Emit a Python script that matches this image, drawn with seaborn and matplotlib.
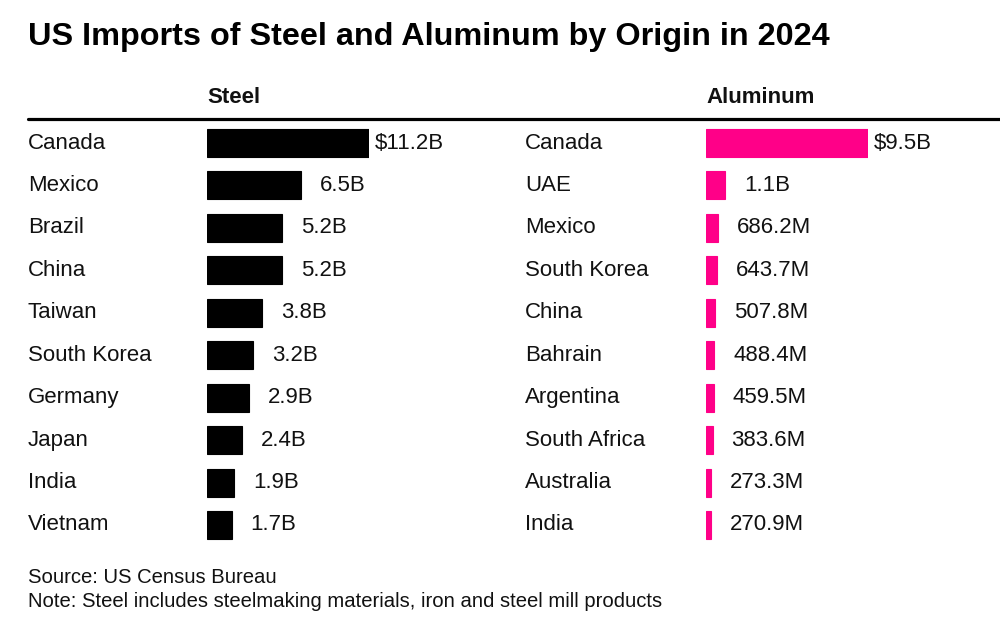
import matplotlib
matplotlib.use("Agg")
import matplotlib.pyplot as plt
import matplotlib.transforms as mtransforms
import seaborn as sns

# data (values in billions of USD)
steel_countries = ['Canada', 'Mexico', 'Brazil', 'China', 'Taiwan',
                   'South Korea', 'Germany', 'Japan', 'India', 'Vietnam']
steel_values = [11.2, 6.5, 5.2, 5.2, 3.8, 3.2, 2.9, 2.4, 1.9, 1.7]

alu_countries = ['Canada', 'UAE', 'Mexico', 'South Korea', 'China',
                 'Bahrain', 'Argentina', 'South Africa', 'Australia', 'India']
alu_values = [9.5, 1.1, 0.6862, 0.6437, 0.5078, 0.4884, 0.4595, 0.3836, 0.2733, 0.2709]

title = 'US Imports of Steel and Aluminum by Origin in 2024'
source = 'Source: US Census Bureau'
note = 'Note: Steel includes steelmaking materials, iron and steel mill products'

sns.set_style('white')
plt.rcParams['font.family'] = ['Liberation Sans', 'DejaVu Sans']

W, H = 1000, 635
fig = plt.figure(figsize=(10, 6.35), dpi=100)
txt = '#111111'


def fmt(v, first):
    s = f'{v:.1f}B' if v >= 1 else f'{v * 1000:.1f}M'
    return '$' + s if first else s


def panel(left_px, label_px, header, countries, values, color):
    # rows: first center at 143px, last at 525px
    top, bottom = 143 - 21.2, 525 + 21.2
    ax = fig.add_axes([left_px / W, 1 - bottom / H, 162 / W, (bottom - top) / H])
    sns.barplot(x=values, y=countries, orient='h', color=color,
                width=0.66, ax=ax, saturation=1, edgecolor=color, linewidth=0.8)
    ax.set_xlim(0, max(values))
    ax.set_ylim(len(values) - 0.5, -0.5)
    ax.set_axis_off()
    ax.patch.set_alpha(0)
    for i, v in enumerate(values):
        ax.annotate(fmt(v, i == 0), xy=(v, i), xytext=(6 if i == 0 else 19, 0),
                    textcoords='offset pixels', va='center', ha='left',
                    fontsize=16, color=txt, annotation_clip=False)
    trans = mtransforms.blended_transform_factory(fig.transFigure, ax.transData)
    for i, c in enumerate(countries):
        ax.text(label_px / W, i, c, transform=trans, va='center', ha='left',
                fontsize=16, color=txt)
    fig.text(left_px / W, 1 - 103 / H, header, fontsize=16, fontweight='bold',
             color=txt, va='baseline', ha='left')
    return ax


panel(207, 28, 'Steel', steel_countries, steel_values, 'black')
panel(706, 525, 'Aluminum', alu_countries, alu_values, '#ff0088')

fig.text(28 / W, 1 - 45 / H, title, fontsize=23.3, fontweight='bold',
         color='black', va='baseline', ha='left')
fig.add_artist(plt.Line2D([28 / W, 1.0], [1 - 119 / H, 1 - 119 / H],
                          transform=fig.transFigure, color='black', lw=2.3))
fig.text(28 / W, 1 - 583 / H, source, fontsize=14.6, color=txt, va='baseline', ha='left')
fig.text(28 / W, 1 - 607 / H, note, fontsize=14.6, color=txt, va='baseline', ha='left')

fig.savefig('out.png', dpi=100, facecolor='white')
